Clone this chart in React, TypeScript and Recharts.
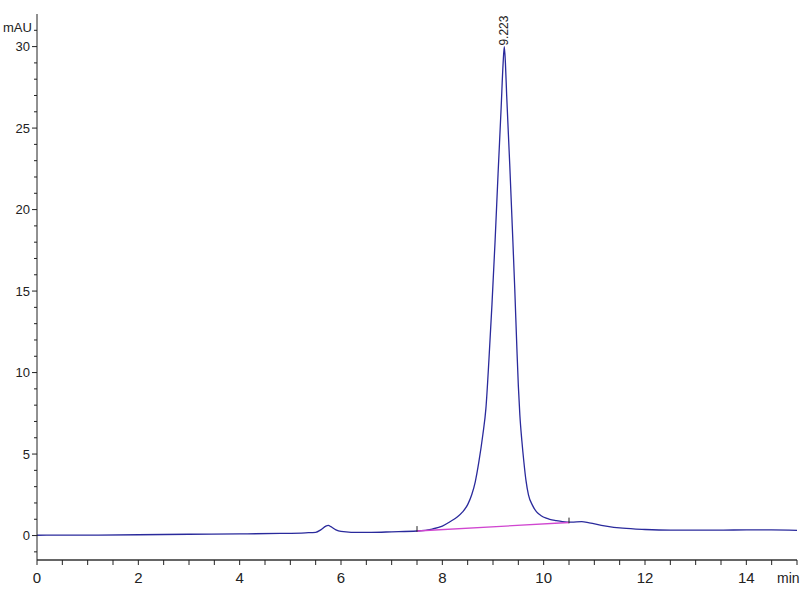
import { Line, LineChart, ReferenceDot, ReferenceLine, XAxis, YAxis } from "recharts";

const TIMES = [
  0, 0.5, 1, 2, 3, 4, 4.8, 5.3, 5.5, 5.6, 5.7, 5.75, 5.8, 5.9, 6.0, 6.2, 6.6, 7.0, 7.5, 7.8,
  8.0, 8.15, 8.3, 8.4, 8.5, 8.58, 8.65, 8.72, 8.8, 8.86, 8.92, 8.98, 9.04, 9.1, 9.16, 9.2,
  9.223, 9.245, 9.27, 9.33, 9.38, 9.43, 9.47, 9.5, 9.53, 9.57, 9.61, 9.65, 9.7, 9.78, 9.86,
  9.95, 10.05, 10.12, 10.25, 10.37, 10.55, 10.75, 10.9, 11.2, 11.56, 12.0, 12.5, 13.0, 13.5,
  14.0, 14.5, 15.0,
];
const SIGNAL = [
  0.02, 0.03, 0.03, 0.05, 0.08, 0.1, 0.13, 0.17, 0.2, 0.35, 0.58, 0.62, 0.55, 0.35, 0.25, 0.2,
  0.2, 0.23, 0.28, 0.4, 0.58, 0.85, 1.15, 1.45, 1.9, 2.5, 3.3, 4.5, 6.2, 7.8, 10.8, 14.2, 18.0,
  22.2, 26.2, 29.0, 30.0, 29.0, 27.0, 22.8, 19.0, 15.1, 11.6, 9.2, 7.4, 5.8, 4.5, 3.4, 2.5,
  1.85, 1.45, 1.22, 1.07, 1.0, 0.92, 0.86, 0.82, 0.85, 0.78, 0.6, 0.45, 0.37, 0.33, 0.33, 0.33,
  0.35, 0.35, 0.32,
];

// integration baseline under the main peak
const BASE_T = [7.5, 10.5];
const BASE_Y = [0.28, 0.8];

const PEAK_T = 9.223;
const PEAK_Y = 30;
const PEAK_LABEL = "9.223";

const Y_TICKS = [-1, 0, 1, 2, 3, 4, 5, 6, 7, 8, 9, 10, 11, 12, 13, 14, 15, 16, 17, 18, 19, 20, 21, 22, 23, 24, 25, 26, 27, 28, 29, 30, 31];
const X_TICKS = [0, 0.5, 1, 1.5, 2, 2.5, 3, 3.5, 4, 4.5, 5, 5.5, 6, 6.5, 7, 7.5, 8, 8.5, 9, 9.5, 10, 10.5, 11, 11.5, 12, 12.5, 13, 13.5, 14, 14.5, 15];

const trace = TIMES.map((t, i) => ({ t, v: SIGNAL[i] }));
const baseline = BASE_T.map((t, i) => ({ t, v: BASE_Y[i] }));

const FONT = "'Liberation Sans Narrow', 'Arial Narrow', 'Liberation Sans', sans-serif";

function YTick({ x, y, payload }: any) {
  const major = payload.value % 5 === 0;
  return (
    <g>
      <line x1={x - (major ? 5 : 3)} x2={x} y1={y} y2={y} stroke="#222" />
      {major && (
        <text x={x - 7} y={y} dy={4.5} textAnchor="end" fontSize={13} fill="#222" fontFamily={FONT}>
          {payload.value}
        </text>
      )}
    </g>
  );
}

function XTick({ x, y, payload }: any) {
  const major = payload.value % 2 === 0;
  return (
    <g>
      <line x1={x} x2={x} y1={y} y2={y + 5} stroke="#222" />
      {major && (
        <text x={x} y={y + 23} textAnchor="middle" fontSize={15} fill="#222" fontFamily={FONT}>
          {payload.value}
        </text>
      )}
    </g>
  );
}

function PeakLabel({ cx, cy }: any) {
  return (
    <text
      x={cx + 4}
      y={cy - 1}
      transform={`rotate(-90 ${cx + 4} ${cy - 1})`}
      fontSize={12}
      fill="#222"
      fontFamily={FONT}
    >
      {PEAK_LABEL}
    </text>
  );
}

export default function App() {
  return (
    <div style={{ position: "absolute", left: 0, top: 0, width: 800, height: 600, background: "#fff" }}>
      <LineChart width={800} height={600} data={trace} margin={{ top: 14, right: 3, bottom: 0, left: 0 }}>
        <XAxis
          dataKey="t"
          type="number"
          domain={[0, 15]}
          ticks={X_TICKS}
          interval={0}
          height={40}
          tickSize={0}
          tickMargin={0}
          tickLine={false}
          axisLine={{ stroke: "#333", strokeWidth: 1.5 }}
          tick={<XTick />}
        />
        <YAxis
          type="number"
          domain={[-1.5, 32]}
          ticks={Y_TICKS}
          interval={0}
          width={37}
          tickSize={0}
          tickMargin={0}
          tickLine={false}
          axisLine={{ stroke: "#222" }}
          tick={<YTick />}
          allowDataOverflow
        />
        <Line
          dataKey="v"
          type="monotone"
          stroke="#2a2a9c"
          strokeWidth={1.3}
          dot={false}
          isAnimationActive={false}
        />
        <Line
          data={baseline}
          dataKey="v"
          type="linear"
          stroke="#d046d0"
          strokeWidth={1.3}
          dot={false}
          isAnimationActive={false}
        />
        {BASE_T.map((t, i) => (
          <ReferenceLine
            key={t}
            segment={[
              { x: t, y: BASE_Y[i] - 0.05 },
              { x: t, y: BASE_Y[i] + 0.3 },
            ]}
            stroke="#222"
          />
        ))}
        <ReferenceDot x={PEAK_T} y={PEAK_Y} r={0} shape={<PeakLabel />} />
        <text x={3} y={32} fontSize={13} fill="#222" fontFamily={FONT}>
          mAU
        </text>
        <text x={777} y={583} fontSize={14} fill="#222" fontFamily={FONT}>
          min
        </text>
      </LineChart>
    </div>
  );
}
